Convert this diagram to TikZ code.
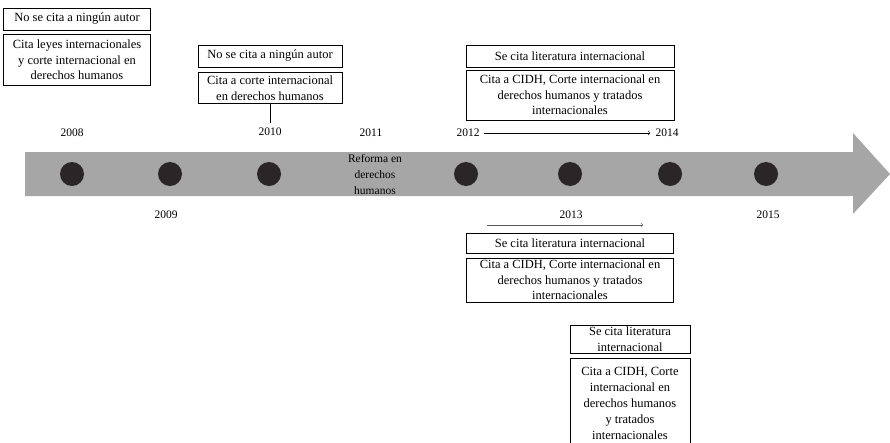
\documentclass[tikz,border=0pt]{standalone}
\usepackage{fontspec}
\setmainfont{Liberation Serif}
\definecolor{bandgray}{HTML}{A6A6A6}
\definecolor{dotdark}{HTML}{2A2627}
\definecolor{arrowgray}{HTML}{555555}
\begin{document}
\begin{tikzpicture}[x=1pt,y=-1pt,
  textbox/.style={draw=black,line width=0.8pt,inner sep=0pt,align=center,
    font=\fontsize{12.5}{15.5}\selectfont},
  yearlabel/.style={inner sep=1pt,font=\fontsize{11.5}{13}\selectfont},
  dot/.style={circle,fill=dotdark,minimum size=24pt,inner sep=0pt},
  thinarrow/.style={->,>=to,line width=0.6pt}]
\useasboundingbox (0,0) rectangle (890,442);
% timeline band
\fill[bandgray] (25,152) -- (853,152) -- (853,133) -- (890,174) -- (853,214) -- (853,196) -- (25,196) -- cycle;
% dots
\node[dot] (d2008) at (72,174) {};
\node[dot] (d2009) at (170,174) {};
\node[dot] (d2010) at (269,174) {};
\node[dot] (d2012) at (466,174) {};
\node[dot] (d2013) at (570,174) {};
\node[dot] (d2014) at (670,174) {};
\node[dot] (d2015) at (766,174) {};
\node[align=center,inner sep=0pt,font=\fontsize{11.5}{16}\selectfont] (reforma) at (375,175) {Reforma en\\derechos\\humanos};
% years
\node[yearlabel] (y2008) at (72,133) {2008};
\node[yearlabel] (y2009) at (166,215) {2009};
\node[yearlabel] (y2010) at (270,132) {2010};
\node[yearlabel] (y2011) at (371,133) {2011};
\node[yearlabel] (y2012) at (468,133) {2012};
\node[yearlabel] (y2013) at (571,215) {2013};
\node[yearlabel] (y2014) at (667,133) {2014};
\node[yearlabel] (y2015) at (768,215) {2015};
% boxes 2008
\node[textbox,minimum width=147pt,minimum height=22pt] (a1) at (77,19) {No se cita a ningún autor};
\node[textbox,minimum width=147pt,minimum height=51pt] (a2) at (77,60) {Cita leyes internacionales\\y corte internacional en\\derechos humanos};
% boxes 2010
\node[textbox,minimum width=144pt,minimum height=22pt] (b1) at (270,56) {No se cita a ningún autor};
\node[textbox,minimum width=144pt,minimum height=31pt] (b2) at (270,88) {Cita a corte internacional\\en derechos humanos};
\coordinate (b2end) at (270,123);
\draw[line width=0.8pt] (b2.south) -- (b2end);
% boxes 2012-2014
\node[textbox,minimum width=208pt,minimum height=22pt] (c1) at (570,56) {Se cita literatura internacional};
\node[textbox,minimum width=208pt,minimum height=50pt] (c2) at (570,95) {Cita a CIDH, Corte internacional en\\derechos humanos y tratados\\internacionales};
\draw[thinarrow] ([xshift=3pt]y2012.east) -- ([xshift=-4pt]y2014.west);
% boxes 2013
\coordinate (ls) at (487,225);
\coordinate (le) at (643,225);
\draw[thinarrow,draw=arrowgray] (ls) -- (le);
\node[textbox,minimum width=207pt,minimum height=20pt] (e1) at (570,243.5) {Se cita literatura internacional};
\node[textbox,minimum width=207pt,minimum height=44pt] (e2) at (570,280) {Cita a CIDH, Corte internacional en\\derechos humanos y tratados\\internacionales};
% boxes 2015
\node[textbox,minimum width=120pt,minimum height=28pt] (f1) at (630,339) {Se cita literatura\\internacional};
\node[textbox,minimum width=120pt,minimum height=90pt,anchor=north,
  font=\fontsize{12.5}{16}\selectfont] (f2) at (630,358) {Cita a CIDH, Corte\\internacional en\\derechos humanos\\y tratados\\internacionales};
\end{tikzpicture}
\end{document}
